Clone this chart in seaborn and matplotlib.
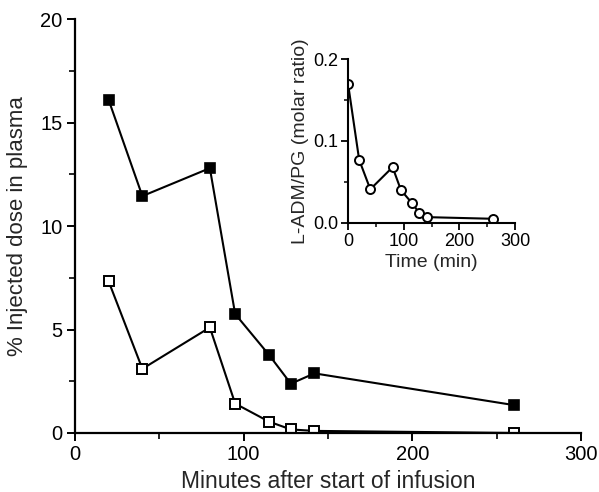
import matplotlib
matplotlib.use("Agg")
import matplotlib.pyplot as plt
import seaborn as sns
import pandas as pd
from matplotlib.ticker import MultipleLocator

# Main chart data
time_main = [20, 40, 80, 95, 115, 128, 142, 260]
filled_vals = [16.1, 11.45, 12.8, 5.75, 3.78, 2.38, 2.88, 1.35]
open_vals = [7.33, 3.1, 5.1, 1.42, 0.55, 0.17, 0.1, 0.0]

# Inset data
time_inset = [0, 20, 40, 80, 95, 115, 128, 142, 260]
ratio_vals = [0.17, 0.077, 0.041, 0.068, 0.040, 0.024, 0.012, 0.007, 0.005]

sns.set_theme(style="ticks")
plt.rcParams['font.family'] = ['Liberation Sans', 'DejaVu Sans']

fig = plt.figure(figsize=(5.99, 4.92), dpi=100)
ax = fig.add_axes([0.125, 0.12, 0.845, 0.841])

df_f = pd.DataFrame({"t": time_main, "v": filled_vals})
df_o = pd.DataFrame({"t": time_main, "v": open_vals})
sns.lineplot(data=df_f, x="t", y="v", ax=ax, color="black", lw=1.5,
             marker="s", markersize=7, markerfacecolor="black",
             markeredgecolor="black", markeredgewidth=1.2)
sns.lineplot(data=df_o, x="t", y="v", ax=ax, color="black", lw=1.5,
             marker="s", markersize=7, markerfacecolor="white",
             markeredgecolor="black", markeredgewidth=1.4)

ax.set_xlim(0, 300)
ax.set_ylim(0, 20)
ax.set_xticks([0, 100, 200, 300])
ax.set_yticks([0, 5, 10, 15, 20])
ax.xaxis.set_minor_locator(MultipleLocator(50))
ax.yaxis.set_minor_locator(MultipleLocator(2.5))
for s in ["top", "right"]:
    ax.spines[s].set_visible(False)
for s in ["left", "bottom"]:
    ax.spines[s].set_linewidth(1.6)
    ax.spines[s].set_color("black")
ax.tick_params(which="major", length=6, width=1.4, labelsize=14.5, colors="black", pad=3)
ax.tick_params(which="minor", length=4, width=1.2, colors="black")
ax.set_xlabel("Minutes after start of infusion", fontsize=16.5, labelpad=4)
ax.set_ylabel("% Injected dose in plasma", fontsize=16, labelpad=9)

# Inset
ins = fig.add_axes([0.581, 0.547, 0.279, 0.333])
df_i = pd.DataFrame({"t": time_inset, "v": ratio_vals})
sns.lineplot(data=df_i, x="t", y="v", ax=ins, color="black", lw=1.5,
             marker="o", markersize=6.5, markerfacecolor="white",
             markeredgecolor="black", markeredgewidth=1.4)
ins.set_xlim(0, 300)
ins.set_ylim(0, 0.2)
ins.set_xticks([0, 100, 200, 300])
ins.set_yticks([0.0, 0.1, 0.2])
ins.set_yticklabels(["0.0", "0.1", "0.2"])
ins.xaxis.set_minor_locator(MultipleLocator(50))
ins.yaxis.set_minor_locator(MultipleLocator(0.05))
for s in ["top", "right"]:
    ins.spines[s].set_visible(False)
for s in ["left", "bottom"]:
    ins.spines[s].set_linewidth(1.5)
    ins.spines[s].set_color("black")
ins.tick_params(which="major", length=5, width=1.3, labelsize=13, colors="black", pad=2)
ins.tick_params(which="minor", length=3, width=1.1, colors="black")
ins.set_xlabel("Time (min)", fontsize=14, labelpad=3)
ins.set_ylabel("L-ADM/PG (molar ratio)", fontsize=14, labelpad=3)
ins.patch.set_alpha(0)

fig.savefig("out.png", dpi=100)
